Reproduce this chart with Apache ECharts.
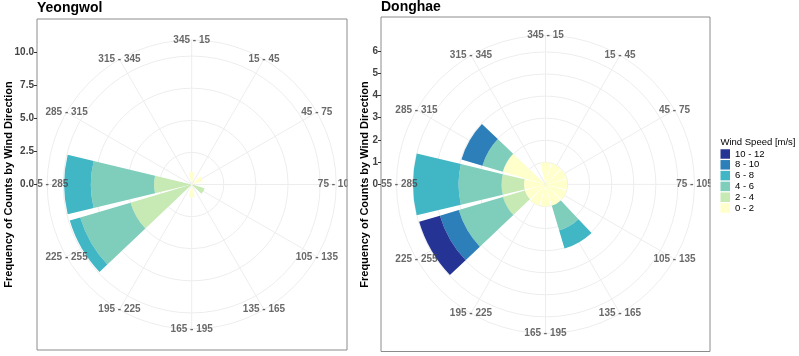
<!DOCTYPE html>
<html><head><meta charset="utf-8">
<script src="https://cdn.jsdelivr.net/npm/echarts@6/dist/echarts.min.js"></script>
<style>html,body{margin:0;padding:0;background:#fff}#c{width:799px;height:356px}</style>
</head><body><div id="c"></div>
<script>
// ---- categories ----
const directions = ['345 - 15','15 - 45','45 - 75','75 - 105','105 - 135','135 - 165','165 - 195','195 - 225','225 - 255','255 - 285','285 - 315','315 - 345'];
const speedBins = ['0 - 2','2 - 4','4 - 6','6 - 8','8 - 10','10 - 12'];
const legendOrder = ['10 - 12','8 - 10','6 - 8','4 - 6','2 - 4','0 - 2'];
const binColors = ['#ffffcc','#c7e9b4','#7fcdbb','#41b6c4','#2c7fb8','#253494'];

// ---- Yeongwol (frequency per direction, by speed bin) ----
const yw_0_2   = [0.97, 0, 0.9, 0, 0.1, 0, 1.0, 0, 0.1, 0.1, 0, 0];
const yw_2_4   = [0, 0, 0, 0, 0.95, 0, 0, 0, 4.87, 2.83, 0, 0];
const yw_4_6   = [0, 0, 0, 0, 0, 0, 0, 0, 4.08, 4.92, 0, 0];
const yw_6_8   = [0, 0, 0, 0, 0, 0, 0, 0, 0.85, 2.08, 0, 0];
const yw_8_10  = [0, 0, 0, 0, 0, 0, 0, 0, 0, 0, 0, 0];
const yw_10_12 = [0, 0, 0, 0, 0, 0, 0, 0, 0, 0, 0, 0];
const ywTicks = [0, 2.5, 5, 7.5, 10];

// ---- Donghae ----
const dh_0_2   = [1.0, 1.0, 1.0, 1.0, 1.0, 1.01, 1.0, 1.0, 0.98, 0.98, 2.02, 0];
const dh_2_4   = [0, 0, 0, 0, 0, 0, 0, 0, 1.03, 1.01, 0, 0];
const dh_4_6   = [0, 0, 0, 0, 0, 1.16, 0, 0, 2.09, 1.95, 0.96, 0];
const dh_6_8   = [0, 0, 0, 0, 0, 0.86, 0, 0, 0, 2.06, 0, 0];
const dh_8_10  = [0, 0, 0, 0, 0, 0, 0, 0, 0.89, 0, 0.99, 0];
const dh_10_12 = [0, 0, 0, 0, 0, 0, 0, 0, 0.98, 0, 0, 0];
const dhTicks = [0, 1, 2, 3, 4, 5, 6];

// outer grid ring (ggplot draws it at 0.45/0.4 of the data maximum)
const ywOuter = 11.25;
const dhOuter = 6.75;

const FONT = '"Liberation Sans", Arial, sans-serif';
const GRID_COLOR = '#ededed';
const chart = echarts.init(document.getElementById('c'), null, {renderer:'canvas'});

const ywSets = [yw_0_2, yw_2_4, yw_4_6, yw_6_8, yw_8_10, yw_10_12];
const dhSets = [dh_0_2, dh_2_4, dh_4_6, dh_6_8, dh_8_10, dh_10_12];

const series = [];
function addStation(sets, polarIndex, stack) {
  sets.forEach((arr, k) => series.push({
    type: 'bar', coordinateSystem: 'polar', polarIndex: polarIndex, stack: stack,
    name: speedBins[k], data: arr, barWidth: '90%', silent: true, z: 2,
    itemStyle: {color: binColors[k]}
  }));
}
addStation(ywSets, 0, 'yw');
addStation(dhSets, 1, 'dh');

function dirLabels(polarIndex, outer) {
  return {
    type: 'scatter', coordinateSystem: 'polar', polarIndex: polarIndex, silent: true,
    symbolSize: 1, itemStyle: {color: 'rgba(0,0,0,0)'}, z: 3,
    data: directions.map((d, i) => [outer, i]),
    label: {show: true, position: 'inside', formatter: p => directions[p.dataIndex],
      fontSize: 10, fontWeight: 'bold', color: '#444', fontFamily: FONT}
  };
}
const ywLabelSeries = series.length; series.push(dirLabels(0, ywOuter));
const dhLabelSeries = series.length; series.push(dirLabels(1, dhOuter));

function angleAx(pi) {
  return {polarIndex: pi, show: false, type: 'category', data: directions, startAngle: 90, clockwise: true,
    boundaryGap: false};
}
function radiusAx(pi, outer) {
  return {polarIndex: pi, show: false, type: 'value', min: 0, max: outer};
}
function yAx(gi, ticks, fmt) {
  return {gridIndex: gi, type: 'value', min: ticks[0], max: ticks[ticks.length - 1],
    interval: ticks[1] - ticks[0], z: 10,
    axisLine: {show: false}, splitLine: {show: false},
    axisTick: {show: true, length: 3, lineStyle: {color: '#333'}},
    axisLabel: {formatter: fmt, fontSize: 10, fontWeight: 'bold', color: '#444', margin: 3, fontFamily: FONT}};
}

const yTitle = 'Frequency of Counts by Wind Direction';
chart.setOption({
  animation: false,
  title: [
    {text: 'Yeongwol', left: 37, top: 1.5, padding: 0, textStyle: {fontSize: 14, fontWeight: 'bold', color: '#000', fontFamily: FONT}},
    {text: 'Donghae', left: 381, top: 0, padding: 0, textStyle: {fontSize: 14, fontWeight: 'bold', color: '#000', fontFamily: FONT}},
    {text: 'Wind Speed [m/s]', left: 720.5, top: 137, padding: 0, textStyle: {fontSize: 9.5, fontWeight: 'normal', color: '#000', fontFamily: FONT}}
  ],
  legend: {
    data: legendOrder, orient: 'vertical', left: 720.5, top: 149, padding: 0,
    itemWidth: 9.5, itemHeight: 9.5, itemGap: 0.8, icon: 'rect', selectedMode: false,
    textStyle: {fontSize: 9.5, color: '#000', fontFamily: FONT}
  },
  polar: [
    {center: [191.7, 184.5], radius: 144.5},
    {center: [545.5, 184.4], radius: 149}
  ],
  angleAxis: [angleAx(0), angleAx(1)],
  radiusAxis: [radiusAx(0, ywOuter), radiusAx(1, dhOuter)],
  grid: [
    {left: 37, top: 184.5 - 132.7, width: 2, height: 132.7},
    {left: 381, top: 184.4 - 133.6, width: 2, height: 133.6}
  ],
  xAxis: [{gridIndex: 0, type: 'value', show: false}, {gridIndex: 1, type: 'value', show: false}],
  yAxis: [yAx(0, ywTicks, v => v.toFixed(1)), yAx(1, dhTicks, v => String(v))],
  series: series
});

// polar grid (circles at the radial ticks + outer ring, spokes at each direction),
// positioned through the polar coordinate system of the chart
const gridEls = [];
function polarGrid(seriesIndex, ticks, outer) {
  const c = chart.convertToPixel({seriesIndex: seriesIndex}, [0, 0]);
  const rings = ticks.filter(t => t > 0).concat([outer]);
  rings.forEach(t => {
    const p = chart.convertToPixel({seriesIndex: seriesIndex}, [t, 0]);
    const r = Math.hypot(p[0] - c[0], p[1] - c[1]);
    gridEls.push({type: 'circle', z: 1, silent: true, shape: {cx: c[0], cy: c[1], r: r},
      style: {fill: null, stroke: GRID_COLOR, lineWidth: 1}});
  });
  directions.forEach((d, i) => {
    const p = chart.convertToPixel({seriesIndex: seriesIndex}, [outer, i]);
    gridEls.push({type: 'line', z: 1, silent: true, shape: {x1: c[0], y1: c[1], x2: p[0], y2: p[1]},
      style: {stroke: GRID_COLOR, lineWidth: 1}});
  });
}
polarGrid(ywLabelSeries, ywTicks, ywOuter);
polarGrid(dhLabelSeries, dhTicks, dhOuter);

const overlay = [
  {type: 'rect', z: 7, silent: true, shape: {x: 22, y: 177, width: 14.5, height: 15}, style: {fill: '#fff'}},
  {type: 'rect', z: 7, silent: true, shape: {x: 347.5, y: 177, width: 11.5, height: 15}, style: {fill: '#fff'}},
  {type: 'rect', z: 7, silent: true, shape: {x: 371, y: 177, width: 9.5, height: 15}, style: {fill: '#fff'}},
  {type: 'rect', z: 7, silent: true, shape: {x: 710.5, y: 177, width: 9, height: 15}, style: {fill: '#fff'}},
  {type: 'rect', z: 8, silent: true, shape: {x: 37, y: 19, width: 310, height: 331}, style: {fill: null, stroke: '#8c8c8c', lineWidth: 1}},
  {type: 'rect', z: 8, silent: true, shape: {x: 381, y: 17, width: 329, height: 334.5}, style: {fill: null, stroke: '#8c8c8c', lineWidth: 1}},
  {type: 'text', z: 8, silent: true, x: 8.5, y: 184.5, rotation: Math.PI / 2,
    style: {text: yTitle, font: 'bold 11px ' + FONT, fill: '#000', align: 'center', verticalAlign: 'middle'}},
  {type: 'text', z: 8, silent: true, x: 364.5, y: 184.5, rotation: Math.PI / 2,
    style: {text: yTitle, font: 'bold 11px ' + FONT, fill: '#000', align: 'center', verticalAlign: 'middle'}}
];
chart.setOption({graphic: gridEls.concat(overlay)});
</script></body></html>
